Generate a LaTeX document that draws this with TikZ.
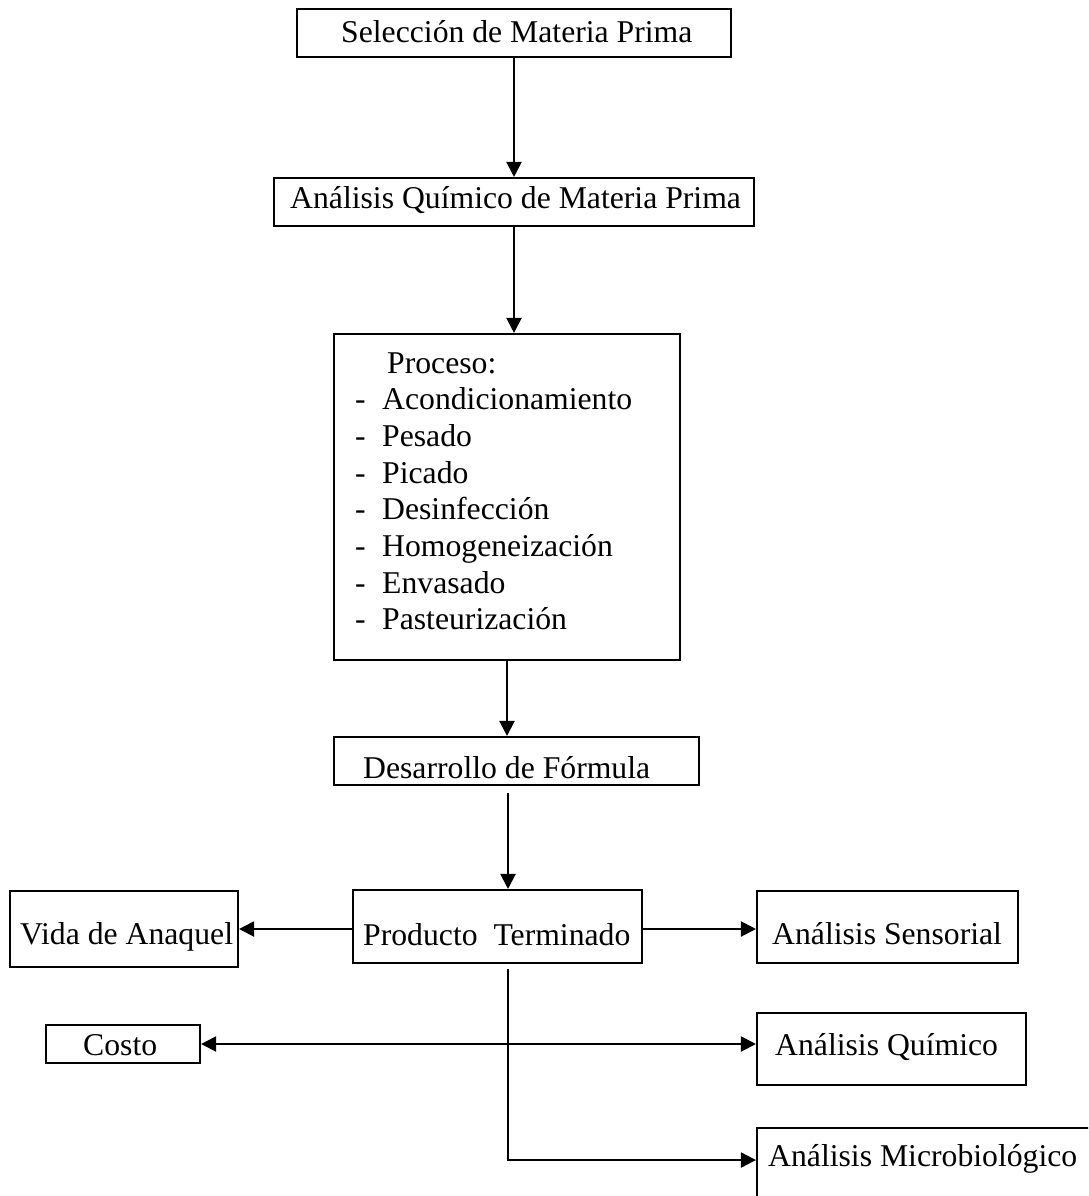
\documentclass[tikz,border=0pt]{standalone}
\usepackage{fontspec}
\setmainfont{Liberation Serif}
\usetikzlibrary{arrows.meta,calc}
\begin{document}
\begin{tikzpicture}[x=1pt,y=-1pt,
  box/.style={draw, line width=2.1pt, inner sep=0pt},
  txt/.style={inner sep=0pt, font=\fontsize{31.7}{36.7}\selectfont, anchor=base west},
  arr/.style={line width=2.1pt, -{Triangle[length=15pt,width=15pt]}},
  darr/.style={line width=2.1pt, {Triangle[length=15pt,width=15pt]}-{Triangle[length=15pt,width=15pt]}}]
\useasboundingbox (0,0) rectangle (1088,1196);
\clip (0,0) rectangle (1088,1196);

% boxes
\node[box, minimum width=434pt, minimum height=48pt] (sel) at (514,33) {};
\node[box, minimum width=480pt, minimum height=48pt] (aqmp) at (514,202) {};
\node[box, minimum width=346pt, minimum height=326pt] (proc) at (507,497) {};
\node[box, minimum width=365pt, minimum height=48pt] (des) at (516.5,761) {};
\node[box, minimum width=289pt, minimum height=73pt] (prod) at (497.5,926.5) {};
\node[box, minimum width=228pt, minimum height=76pt] (vida) at (124,929) {};
\node[box, minimum width=261pt, minimum height=72pt] (sens) at (887.5,927) {};
\node[box, minimum width=154pt, minimum height=38pt] (costo) at (123,1044) {};
\node[box, minimum width=269pt, minimum height=72pt] (quim) at (891.5,1049) {};
\node[box, minimum width=353pt, minimum height=102pt] (micro) at (933.5,1179) {};

% texts
\node[txt] (selt) at (341,43) {Selección de Materia Prima};
\node[txt] (aqmpt) at (290,208) {Análisis Químico de Materia Prima};
\node[txt] (proct) at (387,373) {Proceso:};
\foreach \t [count=\i] in {Acondicionamiento,Pesado,Picado,Desinfección,Homogeneización,Envasado,Pasteurización}{
  \node[txt] (dash\i) at (355,373+36.7*\i) {-};
  \node[txt] (item\i) at (382,373+36.7*\i) {\t};
}
\node[txt] (dest) at (363,778) {Desarrollo de Fórmula};
\node[txt] (prodt) at (363,945) {Producto\ \ Terminado};
\node[txt] (vidat) at (20,944) {Vida de Anaquel};
\node[txt] (senst) at (772,944) {Análisis Sensorial};
\node[txt] (costot) at (83,1055) {Costo};
\node[txt] (quimt) at (775,1055) {Análisis Químico};
\node[txt] (microt) at (768,1166) {Análisis Microbiológico};

% connectors
\draw[arr] (sel.south) -- (aqmp.north);
\draw[arr] (aqmp.south) -- (aqmp.south |- proc.north);
\draw[arr] (proc.south) -- (proc.south |- des.north);
\coordinate (c1) at ($(proc.south |- des.south)+(1,7)$);
\draw[arr] (c1) -- (c1 |- prod.north);
\draw[arr] (vida.east -| prod.west) -- (vida.east);
\draw[arr] (vida.east -| prod.east) -- (vida.east -| sens.west);
\draw[darr] (costo.east) -- (costo.east -| quim.west);
\coordinate (c2) at ($(c1 |- prod.south)+(0,5)$);
\coordinate (c3) at ($(c2)+(0,191)$);
\draw[arr] (c2) |- (micro.west |- c3);
\end{tikzpicture}
\end{document}
